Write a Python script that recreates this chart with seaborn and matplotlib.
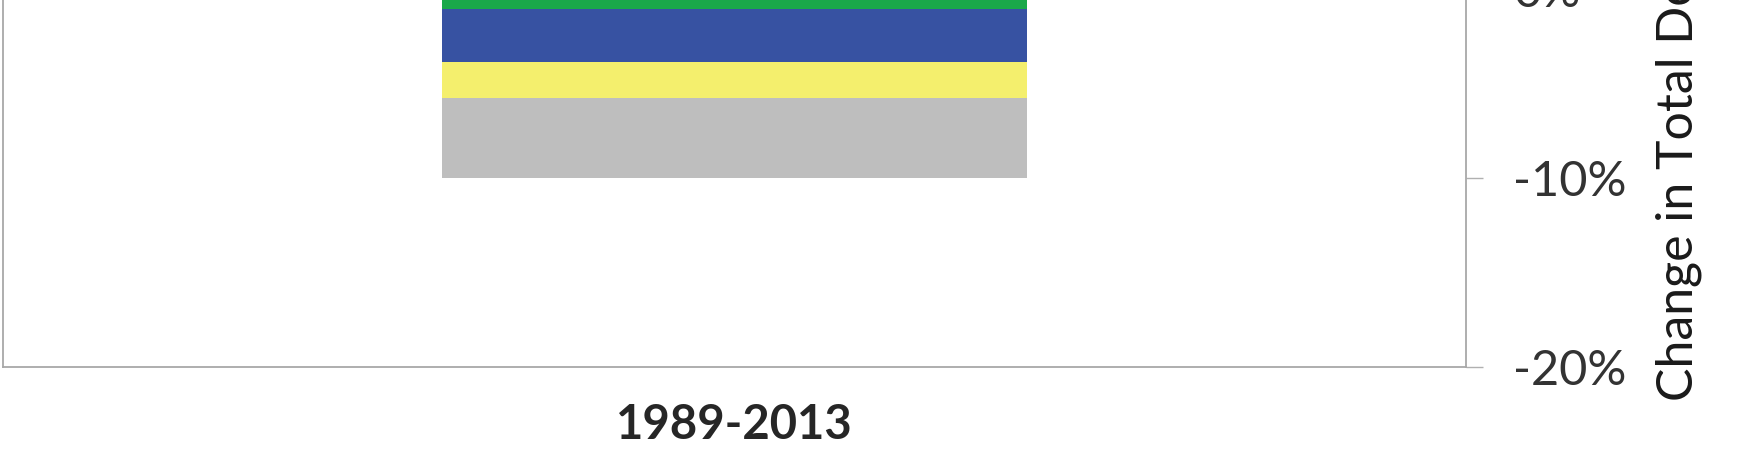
import numpy as np
import pandas as pd
import seaborn as sns
import matplotlib.pyplot as plt
from matplotlib.ticker import FuncFormatter

# Data (percent change, stacked downward from 0)
period = ['1989-2013']
components = ['green', 'blue', 'yellow', 'gray']
values = [-1.06, -2.82, -1.89, -4.23]
colors = ['#1aa84a', '#3752a2', '#f4ef6d', '#bebebe']
ytick_values = [-20, -10, 0, 10]

cum = np.cumsum(values)

sns.set_style('white')
plt.rcParams['font.family'] = ['Lato', 'DejaVu Sans']

fig = plt.figure(figsize=(17.45, 4.51), dpi=100)
# the reference is a crop: the top of the plot area lies above the picture
ax = fig.add_axes([3 / 1745, 84 / 451, 1463 / 1745, 1.2585])

# stacked bar: draw cumulative totals, deepest first
for i in range(len(values) - 1, -1, -1):
    df = pd.DataFrame({'period': period, 'value': [cum[i]]})
    sns.barplot(data=df, x='period', y='value', color=colors[i], width=0.4,
                saturation=1, errorbar=None, ax=ax, linewidth=0)

ax.set_ylim(-20, 10)
ax.set_yticks(ytick_values)
ax.yaxis.set_major_formatter(FuncFormatter(lambda v, p: f'{v:.0f}%'))
ax.yaxis.tick_right()
ax.set_xlabel('')
ax.set_ylabel('')

for s in ['left', 'bottom', 'right']:
    ax.spines[s].set_visible(True)
    ax.spines[s].set_color('#a8a8a8')
    ax.spines[s].set_linewidth(1.3)
ax.spines['top'].set_visible(False)

ax.tick_params(axis='y', which='both', right=True, left=False, length=12,
               width=1.0, color='#b0b0b0', pad=22, labelsize=35,
               labelcolor='#333333')
ax.tick_params(axis='x', length=0, pad=26, labelsize=34, labelcolor='#262626')
for lbl in ax.get_xticklabels():
    lbl.set_fontweight('bold')

fig.text(1656 / 1745, 50 / 451, 'Change in Total Debt', rotation=90,
         ha='left', va='bottom', fontsize=36, color='#1a1a1a')

fig.savefig('out.png', dpi=100)
